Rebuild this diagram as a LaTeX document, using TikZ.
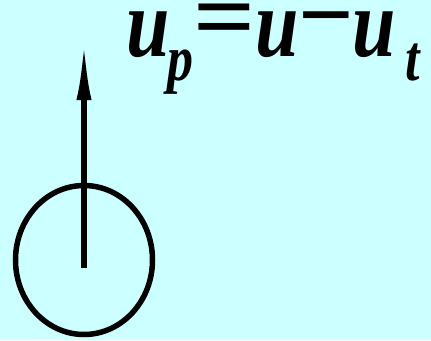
\documentclass[tikz,border=0pt]{standalone}
\usepackage{fontspec}
\setmainfont{Liberation Serif}
\usetikzlibrary{arrows.meta,shapes.geometric}
\definecolor{bgcyan}{HTML}{CCFFFF}

\newcommand{\lowidx}[1]{\raisebox{-20pt}{\fontsize{52}{52}\selectfont #1}}
\newcommand{\widesym}[4]{\makebox[#1][c]{\upshape\raisebox{#3}{\scalebox{#2}[1]{#4}}}}

\begin{document}
\begin{tikzpicture}[
  x=1pt, y=-1pt,
  wheel/.style={draw, line width=5.5pt, ellipse, minimum width=137pt, minimum height=149pt, inner sep=0pt},
  vec/.style={line width=5.5pt, -{Latex[length=60pt, width=15pt]}},
  eqn/.style={font=\fontsize{78}{78}\selectfont\bfseries\itshape, inner sep=0pt, anchor=base west},
]

% --- background ---
\fill[bgcyan] (0,0) rectangle (431,340);
\useasboundingbox (0,0) rectangle (431,340);

% --- wheel and vector ---
\node[wheel] (w) at (84,260) {};
\coordinate (base) at (84,268);
\coordinate (tip) at (84,40);
\draw[vec] (base) -- (tip);

% --- equation ---
\node[eqn] (eq) at (126,56) {\raisebox{0pt}[44pt][30pt]{\scalebox{1}[1.25]{u\kern-2pt\lowidx{p}\widesym{62pt}{1.4}{5pt}{=}u\widesym{54pt}{1.25}{7pt}{−}u\kern9pt\lowidx{t}}}};

\end{tikzpicture}
\end{document}
